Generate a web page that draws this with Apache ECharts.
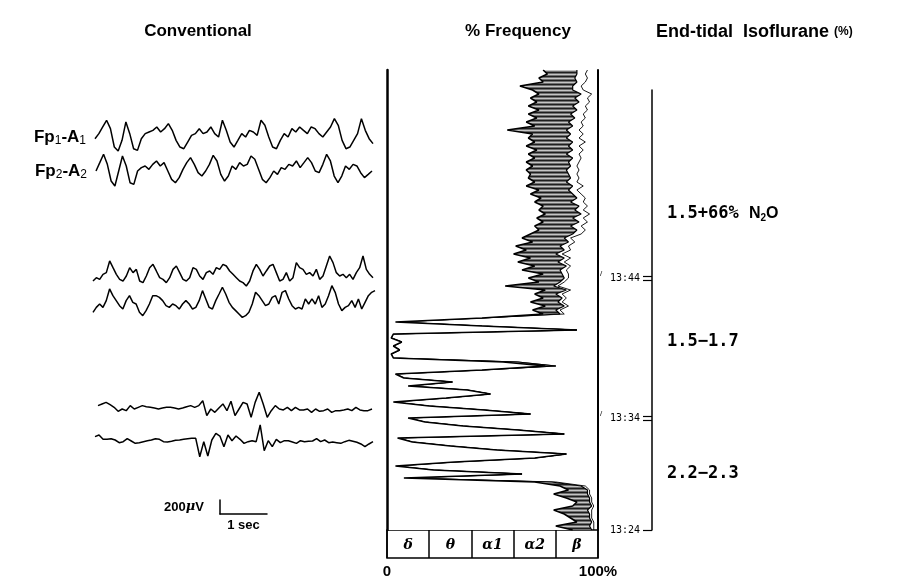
<!DOCTYPE html>
<html>
<head>
<meta charset="utf-8">
<title>EEG and compressed spectral array</title>
<script src="https://cdn.jsdelivr.net/npm/echarts@6/dist/echarts.min.js"></script>
<style>
  html, body { margin: 0; padding: 0; background: #fff; }
  #chart { width: 911px; height: 579px; }
</style>
</head>
<body>
<div id="chart"></div>
<script>
  // conventional EEG traces, microvolts, evenly sampled over ~6 s
  const fp1 = [-24,48,143,239,119,-143,-200,-48,215,48,-167,-191,-24,48,72,95,143,72,119,191,95,-48,-143,-167,-72,24,48,119,48,72,143,48,0,239,95,-72,-143,-48,48,0,95,72,24,239,167,0,-143,-167,-48,48,0,119,72,143,95,48,143,119,48,0,72,143,262,167,-48,-167,-143,-48,48,262,95,-24,-95];
  const fp2 = [0,119,239,95,-143,-215,0,215,72,-167,-191,0,48,72,24,95,143,72,119,0,-119,-167,-95,24,119,191,95,-24,-72,0,95,224,143,-48,-143,-72,72,24,119,72,95,215,167,24,-119,-167,-95,0,-48,48,24,95,72,143,48,119,191,119,0,-24,95,239,143,-72,-167,-72,72,24,95,72,-24,-95,-48,0];
  const mid1 = [-72,-24,-48,24,48,215,119,24,-48,-72,0,119,48,95,-72,-95,0,119,167,72,-24,-48,-95,-24,95,143,48,-48,-72,-24,119,95,0,-48,48,72,24,119,95,167,143,72,24,-24,-72,-95,-143,-72,72,167,95,0,72,143,167,48,-72,-48,48,-72,-24,191,119,95,24,48,0,95,-48,0,143,286,191,48,0,24,-24,24,-48,48,119,286,95,24,-24];
  const mid2 = [-119,-48,0,-48,48,215,119,48,-24,-72,48,119,24,0,-119,-167,-95,0,119,119,95,48,-24,-48,0,-24,-72,0,48,0,-72,-48,48,191,72,-48,-72,48,143,239,143,24,-48,-95,-143,-191,-167,-119,0,167,119,48,-24,0,95,119,0,167,191,72,-24,-72,-48,-72,72,0,72,0,119,-48,0,119,262,167,0,-95,-48,-24,48,-48,72,-72,24,119,167,191];
  const deep1 = [48,72,95,62,24,-33,0,-24,48,0,24,48,33,24,14,0,14,24,24,14,0,14,33,48,24,48,119,-95,0,-48,14,72,-24,110,-95,0,95,72,-119,95,239,72,-119,-24,48,0,-14,24,-24,24,-14,-14,0,-48,0,-33,-24,0,-48,-24,-24,-14,0,-24,24,-14,-24,-24,0];
  const deep2 = [48,72,10,10,19,0,-38,-24,19,-14,-48,-38,-24,-10,0,19,10,-24,-29,-19,-5,0,10,19,24,24,-239,-24,-229,0,95,57,-95,72,-10,57,10,-48,-24,-10,-24,215,-153,-10,-95,10,-38,-10,-10,-29,-48,-10,-24,-19,-14,19,-24,0,-38,-29,-38,-48,-24,-5,-19,-33,-57,-95,-57,-24];

  // % frequency, cumulative band edges per epoch (epoch 0 = 13:24, bottom)
  const edge1 = [88,80,90,87,84,79,88,90,85,79,86,82,70,
    8,64,22,4,32,70,85,52,30,12,5,84,62,36,18,10,68,46,20,3,28,49,38,10,31,8,4,45,75,55,3,2,6,3,7,2,3,90,45,4,45,
    74,69,75,68,74,70,75,56,72,67,74,64,70,62,68,60,66,61,69,64,
    68,72,70,74,71,75,72,74,70,73,68,72,66,70,67,68,66,69,66,70,67,71,66,70,67,69,57,70,66,71,67,72,67,71,68,72,69,63,74,72,76,74];
  const edge2 = [97,96,97,96,96,95,97,96,96,95,95,92,78,
    8,64,22,4,32,70,85,52,30,12,5,84,62,36,18,10,68,46,20,3,28,49,38,10,31,8,4,45,80,62,3,2,6,3,7,2,3,90,45,4,45,
    82,80,84,81,83,80,85,79,82,84,83,82,85,81,84,80,84,82,86,84,
    88,90,87,91,88,92,89,91,87,90,88,86,88,85,87,86,85,87,86,88,85,88,86,88,85,87,85,88,86,89,87,90,88,91,89,92,88,88,90,89,90,90];
  const edge3 = [98,98,98,97,97,97,98,97,97,96,96,94,80,
    8,64,22,4,32,70,85,52,30,12,5,84,62,36,18,10,68,46,20,3,28,49,38,10,31,8,4,45,80,62,3,2,6,3,7,2,3,90,45,4,45,
    84,82,86,83,85,83,87,81,84,86,86,85,87,84,87,83,87,86,89,87,
    92,94,92,95,93,96,93,95,93,94,92,90,93,90,91,90,91,90,91,92,91,93,91,94,91,93,91,93,92,94,93,95,94,96,95,97,93,92,94,95,94,95];

  const bandLabels = ['δ', 'θ', 'α1', 'α2', 'β'];
  const timeLabels = ['13:24', '13:34', '13:44'];
  const timeAt = [0, 28, 63];          // epoch index
  const doseLabels = ['2.2−2.3', '1.5−1.7', '1.5+66% {n|N}{s|2}{n|O}'];
  const doseAt = [14, 47, 79];
  const bracketTop = 110;
  const barMicrovolt = 200;
  const barSeconds = 1;

  const SANS = 'Liberation Sans';
  const MONO = 'DejaVu Sans Mono';

  const traces = [
    { data: fp1, left: 95, width: 278, mid: 137, name: '{b|Fp}{s|1}{b|-A}{s|1}' },
    { data: fp2, left: 96, width: 276, mid: 171, name: '{b|Fp}{s|2}{b|-A}{s|2}' },
    { data: mid1, left: 93, width: 280, mid: 276 },
    { data: mid2, left: 93, width: 282, mid: 304 },
    { data: deep1, left: 98, width: 274, mid: 409 },
    { data: deep2, left: 95, width: 278, mid: 440 }
  ];
  const uvHalf = 300;
  const pxPerUv = 14 / barMicrovolt;

  // striped fill for the shaded band, like the hatched original
  const hatch = document.createElement('canvas');
  hatch.width = 4; hatch.height = 4;
  const hctx = hatch.getContext('2d');
  hctx.fillStyle = '#6e6e6e'; hctx.fillRect(0, 0, 4, 4);
  hctx.fillStyle = '#1e1e1e'; hctx.fillRect(0, 0, 4, 1);
  hctx.fillStyle = '#c4c4c4'; hctx.fillRect(0, 2, 4, 1);

  let chart = echarts.init(document.getElementById('chart'));
  const grid = [], xAxis = [], yAxis = [], series = [];

  traces.forEach((t, k) => {
    const h = uvHalf * 2 * pxPerUv;
    grid.push({ left: t.left, width: t.width, top: t.mid - h / 2, height: h });
    xAxis.push({ gridIndex: k, type: 'category', boundaryGap: false, data: t.data.map((_, i) => i), show: false });
    yAxis.push({
      gridIndex: k, type: 'value', min: -uvHalf, max: uvHalf,
      axisLine: { show: false }, axisTick: { show: false }, axisLabel: { show: false }, splitLine: { show: false },
      name: t.name || '', nameLocation: 'middle', nameRotate: 0, nameGap: 9,
      nameTextStyle: {
        rich: {
          b: { fontFamily: SANS, fontWeight: 'bold', fontSize: 17, color: '#000' },
          s: { fontFamily: SANS, fontSize: 12, color: '#000', verticalAlign: 'bottom', padding: [8, 0, 0, 0] }
        }
      }
    });
    series.push({
      type: 'line', xAxisIndex: k, yAxisIndex: k, data: t.data, symbol: 'none',
      lineStyle: { color: '#000', width: 1.5 }, silent: true
    });
  });

  // % frequency panel
  const gMain = grid.length;
  const frames = edge1.map((_, i) => i);
  grid.push({ left: 387, top: 70, width: 211, height: 460 });
  const xMain = xAxis.length;
  xAxis.push({
    gridIndex: gMain, type: 'value', min: 0, max: 100, interval: 100, position: 'bottom', offset: 28,
    axisLine: { show: false }, axisTick: { show: false }, splitLine: { show: false },
    axisLabel: {
      margin: 6, color: '#000', fontFamily: SANS, fontWeight: 'bold', fontSize: 15,
      formatter: v => (v === 100 ? '100%' : String(v))
    }
  });
  const yMain = yAxis.length;
  yAxis.push({
    gridIndex: gMain, type: 'category', boundaryGap: false, data: frames, z: 10,
    axisLine: { lineStyle: { color: '#000', width: 2.5 } },
    axisTick: { show: false }, axisLabel: { show: false }, splitLine: { show: false }
  });
  yAxis.push({
    gridIndex: gMain, type: 'category', boundaryGap: false, data: frames, position: 'right', z: 10,
    axisLine: { lineStyle: { color: '#000', width: 2 } },
    axisTick: { show: false }, splitLine: { show: false },
    // small pen marks beside the frame at the time marks
    axisLabel: {
      show: true, margin: 2, fontSize: 8, color: '#000', fontFamily: SANS,
      interval: i => timeAt.slice(1).indexOf(i - 1) >= 0,
      formatter: () => '/'
    }
  });
  series.push(
    { type: 'line', xAxisIndex: xMain, yAxisIndex: yMain, data: edge3, symbol: 'none', z: 2,
      lineStyle: { color: '#000', width: 0.9 }, silent: true },
    { type: 'line', xAxisIndex: xMain, yAxisIndex: yMain, data: edge2, symbol: 'none', z: 3,
      lineStyle: { color: '#000', width: 1.2 }, areaStyle: { color: { image: hatch, repeat: 'repeat' }, opacity: 1 }, silent: true },
    { type: 'line', xAxisIndex: xMain, yAxisIndex: yMain, data: edge1, symbol: 'none', z: 4,
      lineStyle: { color: '#000', width: 1.6 }, areaStyle: { color: '#fff', opacity: 1 }, silent: true }
  );

  // band legend box under the panel
  const gBox = grid.length;
  grid.push({ left: 387, top: 530, width: 211, height: 28, show: true, borderColor: '#000', borderWidth: 1.5, backgroundColor: 'transparent' });
  xAxis.push({
    gridIndex: gBox, type: 'category', data: bandLabels, boundaryGap: true,
    axisLine: { show: false }, axisTick: { show: false },
    splitLine: { show: true, lineStyle: { color: '#000', width: 1.5 } },
    axisLabel: { inside: true, margin: 6, color: '#000', fontFamily: 'DejaVu Serif', fontStyle: 'italic', fontWeight: 'bold', fontSize: 14 }
  });
  yAxis.push({ gridIndex: gBox, type: 'value', show: false });

  // time bracket and end-tidal concentrations
  const gBr = grid.length;
  grid.push({ left: 652, top: 530 - bracketTop * 4, width: 1, height: bracketTop * 4 });
  xAxis.push({ gridIndex: gBr, type: 'value', min: 0, max: 1, show: false });
  const tickVals = [];
  timeAt.forEach((v, i) => { if (i === 0) tickVals.push(v); else tickVals.push(v - 0.5, v + 0.5); });
  yAxis.push({
    gridIndex: gBr, type: 'value', min: 0, max: bracketTop, position: 'left',
    axisLine: { show: true, lineStyle: { color: '#000', width: 1.5 } },
    axisTick: { show: true, customValues: tickVals, length: 9, lineStyle: { color: '#000', width: 1.2 } },
    axisLabel: {
      customValues: timeAt, margin: 12, color: '#000', fontFamily: MONO, fontSize: 10,
      formatter: v => timeLabels[timeAt.indexOf(v)]
    },
    splitLine: { show: false }
  });
  yAxis.push({
    gridIndex: gBr, type: 'value', min: 0, max: bracketTop, position: 'right',
    axisLine: { show: false }, axisTick: { show: false }, splitLine: { show: false },
    axisLabel: {
      customValues: doseAt, margin: 14, color: '#000', fontFamily: MONO, fontWeight: 'bold', fontSize: 17,
      formatter: v => doseLabels[doseAt.indexOf(v)],
      rich: {
        n: { fontFamily: SANS, fontWeight: 'bold', fontSize: 16, color: '#000' },
        s: { fontFamily: SANS, fontWeight: 'bold', fontSize: 10, color: '#000', verticalAlign: 'bottom', padding: [8, 0, 0, 0] }
      }
    }
  });

  // calibration bar
  const gCal = grid.length;
  grid.push({ left: 220, top: 500, width: 47, height: 14 });
  xAxis.push({
    gridIndex: gCal, type: 'value', min: 0, max: barSeconds,
    axisLine: { lineStyle: { color: '#000', width: 1.5 } }, axisTick: { show: false },
    axisLabel: { show: false }, splitLine: { show: false },
    name: barSeconds + ' sec', nameLocation: 'middle', nameGap: 5,
    nameTextStyle: { color: '#000', fontFamily: SANS, fontWeight: 'bold', fontSize: 13 }
  });
  yAxis.push({
    gridIndex: gCal, type: 'value', min: 0, max: barMicrovolt,
    axisLine: { lineStyle: { color: '#000', width: 1.5 } }, axisTick: { show: false },
    axisLabel: { show: false }, splitLine: { show: false },
    name: barMicrovolt + '{i|μ}V', nameLocation: 'middle', nameRotate: 0, nameGap: 16,
    nameTextStyle: {
      color: '#000', fontFamily: SANS, fontWeight: 'bold', fontSize: 13,
      rich: { i: { fontFamily: 'DejaVu Serif', fontStyle: 'italic', fontSize: 13, color: '#000' } }
    }
  });

  const titleStyle = { fontFamily: SANS, fontWeight: 'bold', fontSize: 17, color: '#000' };
  chart.setOption({
    backgroundColor: '#fff',
    animation: false,
    title: [
      { text: 'Conventional', left: 193, top: 18, textAlign: 'center', textStyle: titleStyle },
      { text: '% Frequency', left: 513, top: 18, textAlign: 'center', textStyle: titleStyle },
      { text: 'End-tidal  Isoflurane {s|(%)}', left: 651, top: 18,
        textStyle: Object.assign({}, titleStyle, { fontSize: 18, rich: { s: { fontFamily: SANS, fontWeight: 'bold', fontSize: 12, color: '#000' } } }) }
    ],
    grid: grid,
    xAxis: xAxis,
    yAxis: yAxis,
    series: series
  });
</script>
</body>
</html>
